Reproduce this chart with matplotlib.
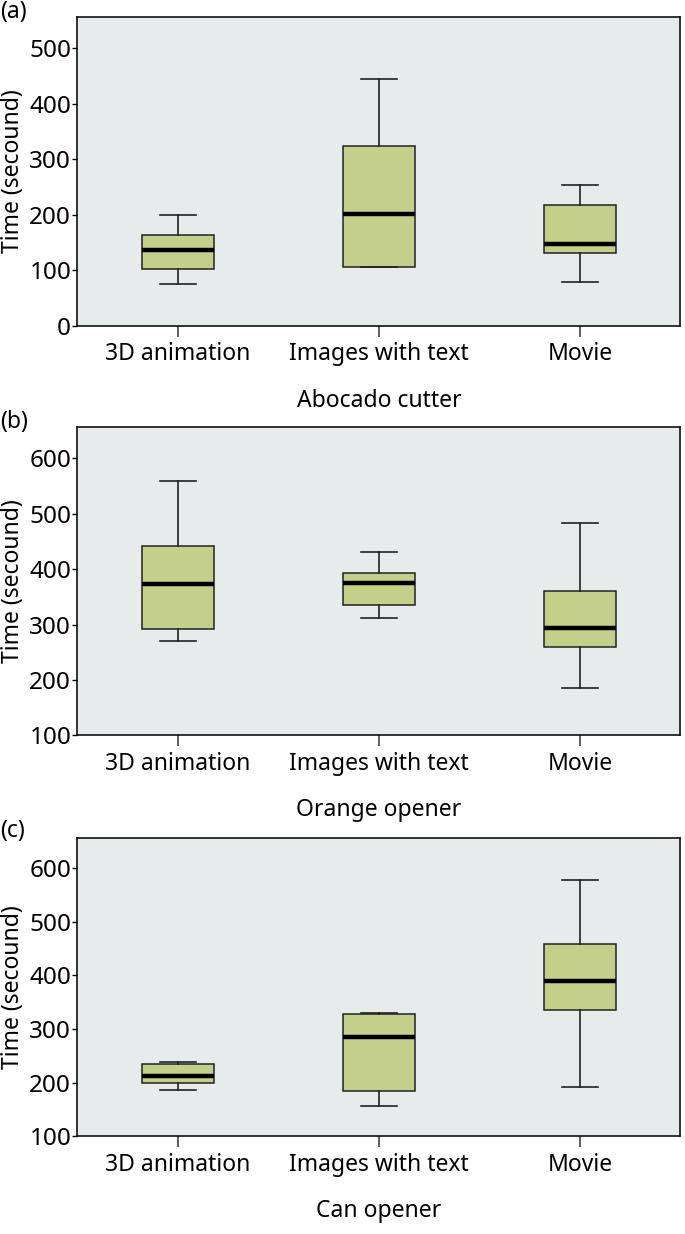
import matplotlib.pyplot as plt

plt.rcParams['font.family'] = ['Noto Sans', 'DejaVu Sans']

groups = ['3D animation', 'Images with text', 'Movie']

# (a) Abocado cutter: whislo, q1, median, q3, whishi
a_whislo = [75, 105, 78]
a_q1 = [102, 105, 131]
a_med = [136, 201, 148]
a_q3 = [164, 324, 218]
a_whishi = [200, 445, 253]

# (b) Orange opener
b_whislo = [271, 312, 186]
b_q1 = [292, 336, 260]
b_med = [374, 375, 294]
b_q3 = [442, 393, 360]
b_whishi = [560, 431, 483]

# (c) Can opener
c_whislo = [187, 157, 192]
c_q1 = [199, 184, 335]
c_med = [213, 285, 389]
c_q3 = [235, 328, 458]
c_whishi = [239, 330, 577]

panels = [
    ('(a)', 'Abocado cutter', (a_whislo, a_q1, a_med, a_q3, a_whishi), (0, 556), [0, 100, 200, 300, 400, 500]),
    ('(b)', 'Orange opener', (b_whislo, b_q1, b_med, b_q3, b_whishi), (100, 656), [100, 200, 300, 400, 500, 600]),
    ('(c)', 'Can opener', (c_whislo, c_q1, c_med, c_q3, c_whishi), (100, 656), [100, 200, 300, 400, 500, 600]),
]

# axes rectangles in figure fraction
rects = [
    [0.1131, 0.7361, 0.8803, 0.2499],
    [0.1131, 0.4041, 0.8803, 0.2496],
    [0.1131, 0.0792, 0.8803, 0.2417],
]
tags_y = [1.0, 0.668, 0.336]

fig = plt.figure(figsize=(6.85, 12.34), dpi=100)

for (tag, name, vals, ylim, yt), r, ty in zip(panels, rects, tags_y):
    ax = fig.add_axes(r)
    ax.set_facecolor('#e6ebeb')
    whislo, q1, med, q3, whishi = vals
    stats = []
    for i in range(3):
        stats.append(dict(whislo=whislo[i], q1=q1[i], med=med[i], q3=q3[i], whishi=whishi[i], fliers=[]))
    ax.bxp(stats, positions=[1, 2, 3], widths=0.36, patch_artist=True, showfliers=False,
           boxprops=dict(facecolor='#c4cf8a', edgecolor='#222222', linewidth=1.1),
           medianprops=dict(color='black', linewidth=3.2, solid_capstyle='butt'),
           whiskerprops=dict(color='#222222', linewidth=1.2),
           capprops=dict(color='#222222', linewidth=1.2))
    ax.set_xlim(0.5, 3.5)
    ax.set_ylim(*ylim)
    ax.set_yticks(yt)
    ax.set_xticks([1, 2, 3])
    ax.set_xticklabels(groups)
    ax.tick_params(axis='x', direction='out', length=8, width=1.1, pad=4, labelsize=16.5, colors='#333333', labelcolor='black')
    ax.tick_params(axis='y', direction='out', length=3.5, width=1, pad=1, labelsize=17.5)
    ax.set_ylabel('Time (secound)', fontsize=16.5, labelpad=3)
    ax.set_xlabel(name, fontsize=16.5, labelpad=16)
    for s in ax.spines.values():
        s.set_linewidth(1.2)
        s.set_color('#111111')
    fig.text(0.0, ty, tag, fontsize=16.5, ha='left', va='top')

fig.savefig('out.png', dpi=100)
